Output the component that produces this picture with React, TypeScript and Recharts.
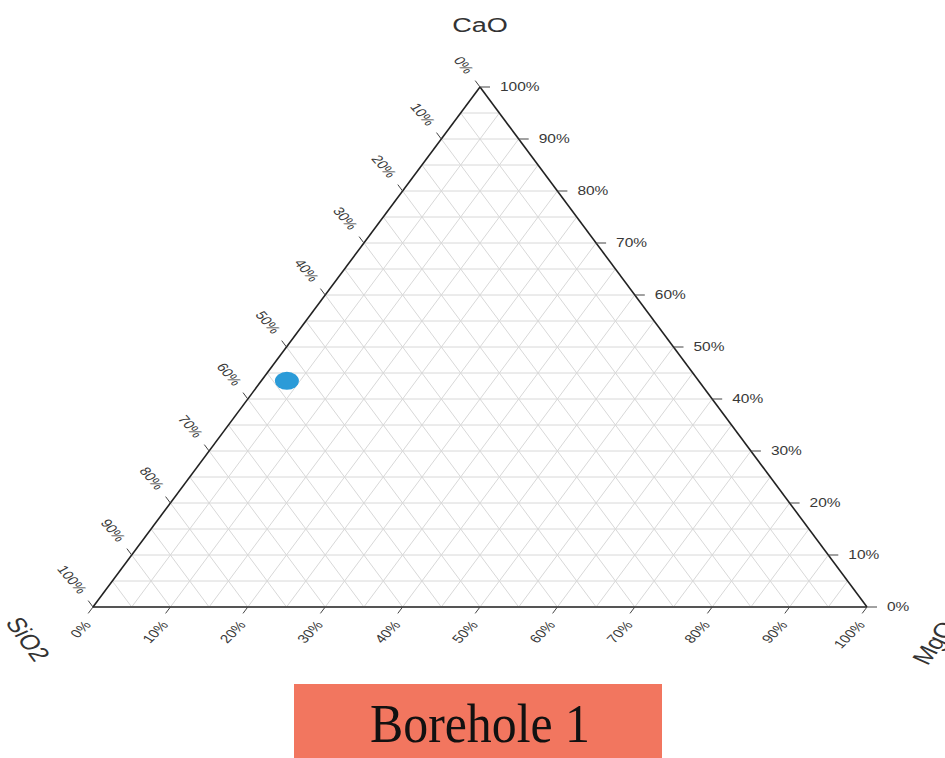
import React from 'react';
import { ScatterChart, Scatter, XAxis, YAxis, ReferenceLine } from 'recharts';

// Ternary composition of the sample (wt %)
const sampleNames = ['Borehole 1'];
const sampleSiO2 = [53.2];
const sampleCaO = [43.5];
const sampleMgO = [3.3];

// Axis titles and tick values
const axisTitles = { left: 'SiO2', top: 'CaO', right: 'MgO' };
const tickPercents = [0, 10, 20, 30, 40, 50, 60, 70, 80, 90, 100];
const gridPercents = [5, 10, 15, 20, 25, 30, 35, 40, 45, 50, 55, 60, 65, 70, 75, 80, 85, 90, 95];

// Ternary -> cartesian (SiO2 corner at (0,0), MgO corner at (1,0), CaO apex at (0.5,1))
const toXY = (cao: number, mgo: number) => ({ x: mgo + cao / 2, y: cao });

const W = 945;
const H = 758;
const X_DOMAIN: [number, number] = [-93 / 774, 852 / 774];
const Y_DOMAIN: [number, number] = [1 + 87 / 520 - 758 / 520, 1 + 87 / 520];

const STRETCH = 1.29;
const FONT = '"Liberation Sans", Arial, sans-serif';
const LABEL_COLOR = '#383838';
const TICK_COLOR = '#444';
const GRID_COLOR = '#d8d8d8';

// Grid line segments in data space
type Seg = [{ x: number; y: number }, { x: number; y: number }];
const gridSegments: Seg[] = [];
gridPercents.forEach((p) => {
  const f = p / 100;
  gridSegments.push([toXY(f, 0), toXY(f, 1 - f)]); // constant CaO
  gridSegments.push([toXY(0, f), toXY(1 - f, f)]); // constant MgO
  gridSegments.push([toXY(0, 1 - f), toXY(1 - f, 0)]); // constant SiO2
});

const edgeSegments: { seg: Seg; color: string; width: number }[] = [
  { seg: [toXY(0, 0), toXY(0, 1)], color: '#555', width: 2.2 },
  { seg: [toXY(0, 0), toXY(1, 0)], color: '#222', width: 1.6 },
  { seg: [toXY(0, 1), toXY(1, 0)], color: '#222', width: 1.6 },
];

// Tick positions along each side
const mgoTicks = tickPercents.map((p) => ({ ...toXY(0, p / 100), label: `${p}%` }));
const caoTicks = tickPercents.map((p) => ({ ...toXY(p / 100, 1 - p / 100), label: `${p}%` }));
const sio2Ticks = tickPercents.map((p) => ({ ...toXY(1 - p / 100, 0), label: `${p}%` }));

const samples = sampleNames.map((name, i) => ({
  name,
  sio2: sampleSiO2[i],
  ...toXY(sampleCaO[i] / 100, sampleMgO[i] / 100),
}));

const labelStyle = { fontFamily: FONT, fontSize: 12, fill: LABEL_COLOR };

const BottomTick = (props: any) => {
  const { cx, cy, payload } = props;
  const tx = cx - 0.6 * 8;
  const ty = cy + 0.8 * 8;
  return (
    <g>
      <line x1={cx} y1={cy} x2={tx} y2={ty} stroke={TICK_COLOR} strokeWidth={1} />
      <text
        transform={`translate(${tx - 1},${ty + 9}) scale(${STRETCH},1) rotate(-52)`}
        textAnchor="end"
        dominantBaseline="central"
        style={labelStyle}
      >
        {payload.label}
      </text>
    </g>
  );
};

const RightTick = (props: any) => {
  const { cx, cy, payload } = props;
  return (
    <g>
      <line x1={cx} y1={cy} x2={cx + 10} y2={cy} stroke={TICK_COLOR} strokeWidth={1} />
      <text
        transform={`translate(${cx + 20},${cy}) scale(${STRETCH},1)`}
        textAnchor="start"
        dominantBaseline="central"
        style={labelStyle}
      >
        {payload.label}
      </text>
    </g>
  );
};

const LeftTick = (props: any) => {
  const { cx, cy, payload } = props;
  const tx = cx - 0.6 * 8;
  const ty = cy - 0.8 * 8;
  return (
    <g>
      <line x1={cx} y1={cy} x2={tx} y2={ty} stroke={TICK_COLOR} strokeWidth={1} />
      <text
        transform={`translate(${tx - 5},${ty - 8.5}) scale(${STRETCH},1) rotate(56)`}
        textAnchor="end"
        dominantBaseline="central"
        style={labelStyle}
      >
        {payload.label}
      </text>
    </g>
  );
};

const SampleDot = (props: any) => {
  const { cx, cy } = props;
  return <ellipse cx={cx} cy={cy} rx={12} ry={9} fill="#2b9bd8" />;
};

const titleStyle = { fontFamily: FONT, fontSize: 21, fill: '#333' };

export default function App() {
  return (
    <div style={{ position: 'absolute', left: 0, top: 0, width: W, height: H, background: '#fff' }}>
      <div style={{ position: 'absolute', left: 0, top: 0 }}>
        <ScatterChart width={W} height={H} margin={{ top: 0, right: 0, bottom: 0, left: 0 }}>
          <XAxis type="number" dataKey="x" domain={X_DOMAIN} hide allowDataOverflow />
          <YAxis type="number" dataKey="y" domain={Y_DOMAIN} hide allowDataOverflow />
          {gridSegments.map((seg, i) => (
            <ReferenceLine key={`g${i}`} segment={seg} stroke={GRID_COLOR} strokeWidth={1} ifOverflow="visible" />
          ))}
          {edgeSegments.map((e, i) => (
            <ReferenceLine key={`e${i}`} segment={e.seg} stroke={e.color} strokeWidth={e.width} ifOverflow="visible" />
          ))}
          <Scatter data={mgoTicks} shape={BottomTick} isAnimationActive={false} />
          <Scatter data={caoTicks} shape={RightTick} isAnimationActive={false} />
          <Scatter data={sio2Ticks} shape={LeftTick} isAnimationActive={false} />
          <Scatter data={samples} shape={SampleDot} isAnimationActive={false} />
        </ScatterChart>
      </div>
      <svg width={W} height={H} style={{ position: 'absolute', left: 0, top: 0, pointerEvents: 'none' }}>
        <text transform={`translate(480,32) scale(${STRETCH},1)`} textAnchor="middle" style={titleStyle}>
          {axisTitles.top}
        </text>
        <text
          transform={`translate(28,639) scale(${STRETCH},1) rotate(60)`}
          textAnchor="middle"
          dominantBaseline="central"
          style={titleStyle}
        >
          {axisTitles.left}
        </text>
        <text
          transform={`translate(934,643) scale(${STRETCH},1) rotate(-60)`}
          textAnchor="middle"
          dominantBaseline="central"
          style={titleStyle}
        >
          {axisTitles.right}
        </text>
        <rect x={294} y={684} width={368} height={74} fill="#f2765f" />
        <text
          x={480}
          y={742}
          textAnchor="middle"
          textLength={220}
          lengthAdjust="spacingAndGlyphs"
          style={{ fontFamily: '"Liberation Serif", "DejaVu Serif", serif', fontSize: 54, fill: '#111' }}
        >
          {sampleNames[0]}
        </text>
      </svg>
    </div>
  );
}
